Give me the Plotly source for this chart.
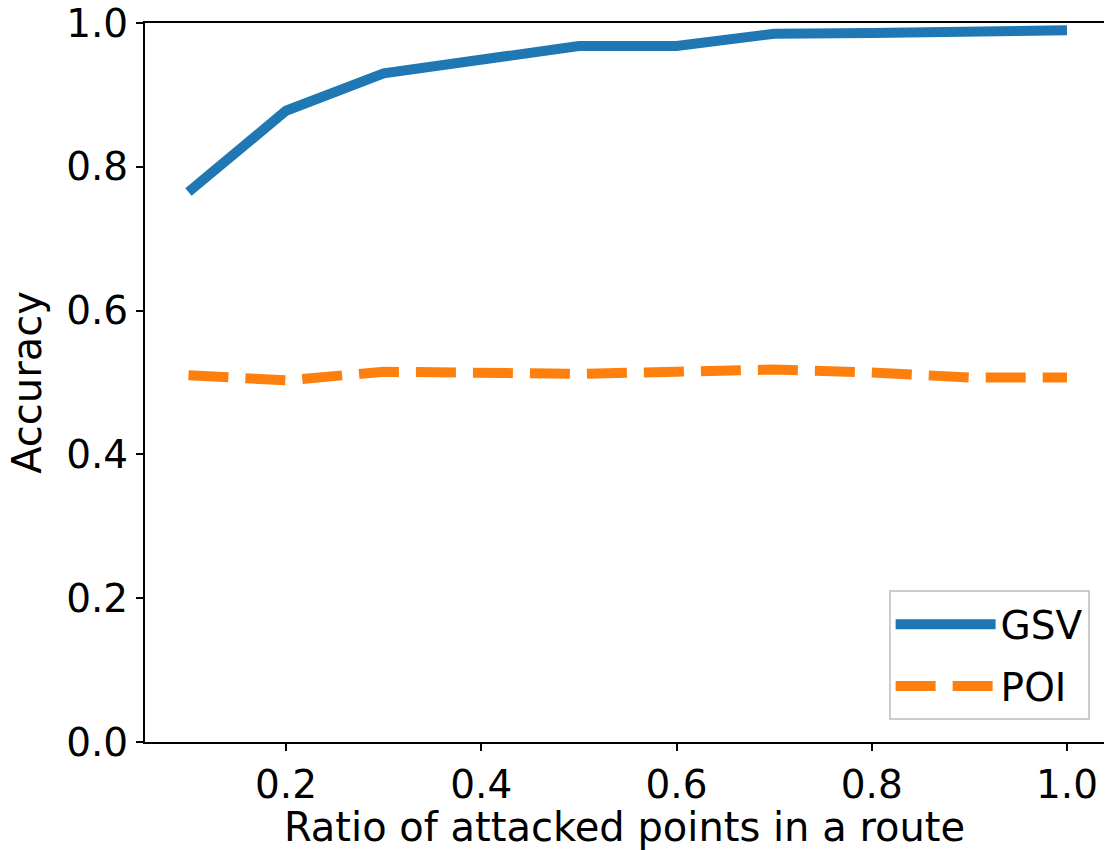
import plotly.graph_objects as go

ratios = [0.1, 0.2, 0.3, 0.4, 0.5, 0.6, 0.7, 0.8, 0.9, 1.0]
gsv = [0.765, 0.878, 0.930, 0.950, 0.968, 0.968, 0.985, 0.986, 0.988, 0.990]
poi = [0.510, 0.503, 0.515, 0.514, 0.512, 0.515, 0.518, 0.514, 0.507, 0.507]

x_ticks = [0.2, 0.4, 0.6, 0.8, 1.0]
y_ticks = [0.0, 0.2, 0.4, 0.6, 0.8, 1.0]

fig = go.Figure()
fig.add_trace(go.Scatter(x=ratios, y=gsv, mode="lines", name="GSV", legendgroup="a",
                         line=dict(color="#1f77b4", width=10)))
fig.add_trace(go.Scatter(x=ratios, y=poi, mode="lines", name="POI", legendgroup="b",
                         line=dict(color="#ff7f0e", width=10, dash="40px,17px")))

font = "DejaVu Sans, Verdana, sans-serif"
fig.update_layout(
    width=1105, height=850,
    margin=dict(l=145, r=1, t=20, b=108),
    plot_bgcolor="white", paper_bgcolor="white",
    font=dict(family=font, size=39, color="black"),
    showlegend=True,
    legend=dict(x=0.985, y=0.03, xanchor="right", yanchor="bottom",
                bgcolor="white", bordercolor="#cccccc", borderwidth=2,
                font=dict(size=39), tracegroupgap=8, itemwidth=100),
    xaxis=dict(range=[0.0555, 1.0379], tickvals=x_ticks,
               ticktext=[f"{v:.1f}" for v in x_ticks],
               showline=True, linecolor="black", linewidth=2, mirror=True,
               ticks="outside", ticklen=7, tickwidth=1.5, tickcolor="black",
               showgrid=False, zeroline=False, ticklabeloverflow="allow",
               title=dict(text="Ratio of attacked points in a route", font=dict(size=40), standoff=8)),
    yaxis=dict(range=[0, 1.0], tickvals=y_ticks,
               ticktext=[f"{v:.1f}" for v in y_ticks],
               showline=True, linecolor="black", linewidth=2, mirror=False,
               ticks="outside", ticklen=7, tickwidth=1.5, tickcolor="black",
               showgrid=False, zeroline=False, ticklabeloverflow="allow",
               title=dict(text="Accuracy", font=dict(size=40), standoff=12)),
)
fig.write_html("out.html", config={"displayModeBar": False},
               post_script="document.body.style.margin='0';document.body.style.overflow='hidden';")
